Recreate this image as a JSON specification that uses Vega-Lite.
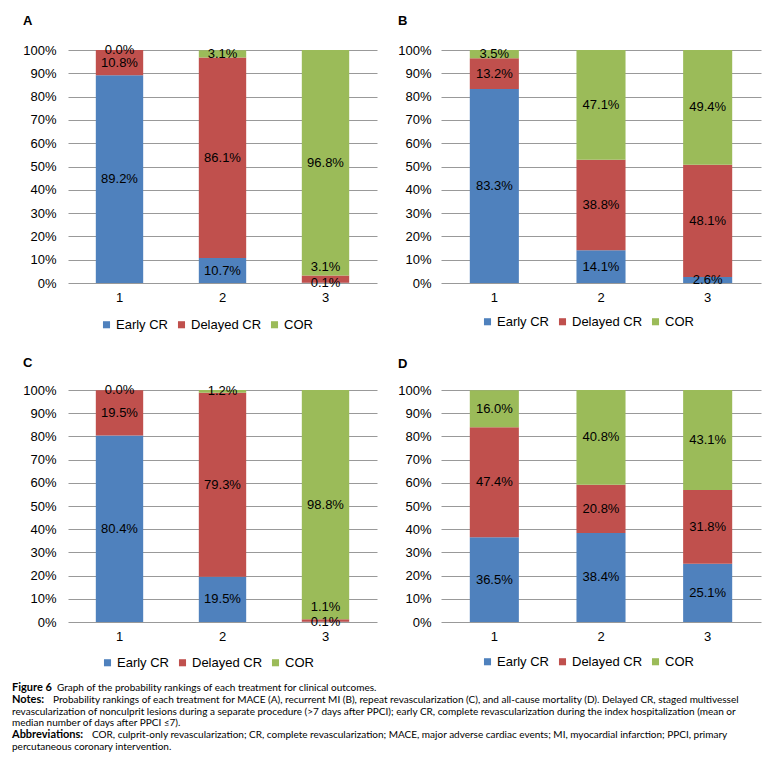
{
  "$schema": "https://vega.github.io/schema/vega-lite/v6.json",
  "padding": {"left": 12, "top": 15, "right": 5, "bottom": 0},
  "background": "white",
  "config": {
    "view": {"stroke": null},
    "font": "Liberation Sans",
    "axis": {"labelFont": "Liberation Sans", "labelFontSize": 13, "labelColor": "#000", "title": null, "ticks": false, "domain": false},
    "legend": {"labelFont": "Liberation Sans", "labelFontSize": 13, "labelColor": "#000"}
  },
  "datasets": {
    "bars": [
      {"panel": "A", "rank": "1", "series": "Early CR", "value": 0.892},
      {"panel": "A", "rank": "1", "series": "Delayed CR", "value": 0.108},
      {"panel": "A", "rank": "1", "series": "COR", "value": 0.0},
      {"panel": "A", "rank": "2", "series": "Early CR", "value": 0.107},
      {"panel": "A", "rank": "2", "series": "Delayed CR", "value": 0.861},
      {"panel": "A", "rank": "2", "series": "COR", "value": 0.031},
      {"panel": "A", "rank": "3", "series": "Early CR", "value": 0.001},
      {"panel": "A", "rank": "3", "series": "Delayed CR", "value": 0.031},
      {"panel": "A", "rank": "3", "series": "COR", "value": 0.968},
      {"panel": "B", "rank": "1", "series": "Early CR", "value": 0.833},
      {"panel": "B", "rank": "1", "series": "Delayed CR", "value": 0.132},
      {"panel": "B", "rank": "1", "series": "COR", "value": 0.035},
      {"panel": "B", "rank": "2", "series": "Early CR", "value": 0.141},
      {"panel": "B", "rank": "2", "series": "Delayed CR", "value": 0.388},
      {"panel": "B", "rank": "2", "series": "COR", "value": 0.471},
      {"panel": "B", "rank": "3", "series": "Early CR", "value": 0.026},
      {"panel": "B", "rank": "3", "series": "Delayed CR", "value": 0.481},
      {"panel": "B", "rank": "3", "series": "COR", "value": 0.494},
      {"panel": "C", "rank": "1", "series": "Early CR", "value": 0.804},
      {"panel": "C", "rank": "1", "series": "Delayed CR", "value": 0.195},
      {"panel": "C", "rank": "1", "series": "COR", "value": 0.0},
      {"panel": "C", "rank": "2", "series": "Early CR", "value": 0.195},
      {"panel": "C", "rank": "2", "series": "Delayed CR", "value": 0.793},
      {"panel": "C", "rank": "2", "series": "COR", "value": 0.012},
      {"panel": "C", "rank": "3", "series": "Early CR", "value": 0.001},
      {"panel": "C", "rank": "3", "series": "Delayed CR", "value": 0.011},
      {"panel": "C", "rank": "3", "series": "COR", "value": 0.988},
      {"panel": "D", "rank": "1", "series": "Early CR", "value": 0.365},
      {"panel": "D", "rank": "1", "series": "Delayed CR", "value": 0.474},
      {"panel": "D", "rank": "1", "series": "COR", "value": 0.160},
      {"panel": "D", "rank": "2", "series": "Early CR", "value": 0.384},
      {"panel": "D", "rank": "2", "series": "Delayed CR", "value": 0.208},
      {"panel": "D", "rank": "2", "series": "COR", "value": 0.408},
      {"panel": "D", "rank": "3", "series": "Early CR", "value": 0.251},
      {"panel": "D", "rank": "3", "series": "Delayed CR", "value": 0.318},
      {"panel": "D", "rank": "3", "series": "COR", "value": 0.431}
    ],
    "caption": [
      {"line": 1, "part": "lead", "text": "Figure 6"},
      {"line": 1, "part": "body", "text": "Graph of the probability rankings of each treatment for clinical outcomes."},
      {"line": 2, "part": "lead", "text": "Notes:"},
      {"line": 2, "part": "body", "text": "Probability rankings of each treatment for MACE (A), recurrent MI (B), repeat revascularization (C), and all-cause mortality (D). Delayed CR, staged multivessel"},
      {"line": 3, "part": "body", "text": "revascularization of nonculprit lesions during a separate procedure (>7 days after PPCI); early CR, complete revascularization during the index hospitalization (mean or"},
      {"line": 4, "part": "body", "text": "median number of days after PPCI ≤7)."},
      {"line": 5, "part": "lead", "text": "Abbreviations:"},
      {"line": 5, "part": "body", "text": "COR, culprit-only revascularization; CR, complete revascularization; MACE, major adverse cardiac events; MI, myocardial infarction; PPCI, primary"},
      {"line": 6, "part": "body", "text": "percutaneous coronary intervention."}
    ]
  },
  "resolve": {"legend": {"color": "independent"}, "scale": {"color": "independent"}},
  "align": "none",
  "spacing": 12,
  "vconcat": [
    {
      "spacing": 25,
      "resolve": {"legend": {"color": "independent"}, "scale": {"color": "independent"}},
      "vconcat": [
        {
          "hconcat": [
            {
              "data": {"name": "bars"},
              "transform": [{"filter": "datum.panel == 'A'"}],
              "title": {"text": "A", "anchor": "start", "frame": "group", "dx": -45, "offset": 4, "fontSize": 13, "fontWeight": "bold", "color": "#000"},
              "width": 309, "height": 233,
              "encoding": {
                "x": {"field": "rank", "type": "ordinal", "scale": {"paddingInner": 0.54, "paddingOuter": 0.27}, "axis": {"labelAngle": 0, "labelPadding": 8}},
                "order": {"field": "series", "sort": "descending"}
              },
              "layer": [
                {"mark": {"type": "bar"},
                 "encoding": {
                   "y": {"field": "value", "type": "quantitative", "stack": "zero", "scale": {"domain": [0, 1]}, "axis": {"format": ".0%", "tickCount": 10, "grid": true, "gridColor": "#999", "labelPadding": 12, "minExtent": 56, "maxExtent": 56}},
                   "color": {"field": "series", "type": "nominal", "scale": {"domain": ["Early CR", "Delayed CR", "COR"], "range": ["#4F81BD", "#C0504D", "#9BBB59"]}, "legend": {"title": null, "orient": "none", "direction": "horizontal", "legendX": 32, "legendY": 268, "symbolType": "square", "symbolSize": 50, "columnPadding": 6, "labelOffset": 3}}
                 }},
                {"mark": {"type": "text", "fontSize": 13, "color": "#000", "baseline": "middle"},
                 "encoding": {
                   "y": {"field": "value", "type": "quantitative", "stack": "zero", "bandPosition": 0.5},
                   "detail": {"field": "series"},
                   "text": {"field": "value", "format": ".1%"},
                   "opacity": {"condition": {"test": "datum.rank == '3' && datum.series == 'Delayed CR'", "value": 0}, "value": 1}
                 }},
                {"mark": {"type": "text", "fontSize": 13, "color": "#000", "baseline": "middle", "dy": -12},
                 "encoding": {
                   "y": {"field": "value", "type": "quantitative", "stack": "zero", "bandPosition": 0.5},
                   "detail": {"field": "series"},
                   "text": {"field": "value", "format": ".1%"},
                   "opacity": {"condition": {"test": "datum.rank == '3' && datum.series == 'Delayed CR'", "value": 1}, "value": 0}
                 }}
              ]
            },
            {
              "data": {"name": "bars"},
              "transform": [{"filter": "datum.panel == 'B'"}],
              "title": {"text": "B", "anchor": "start", "frame": "group", "dx": -43, "offset": 16, "fontSize": 13, "fontWeight": "bold", "color": "#000"},
              "width": 320, "height": 233,
              "encoding": {
                "x": {"field": "rank", "type": "ordinal", "scale": {"paddingInner": 0.54, "paddingOuter": 0.27}, "axis": {"labelAngle": 0, "labelPadding": 8}},
                "order": {"field": "series", "sort": "descending"}
              },
              "layer": [
                {"mark": {"type": "bar"},
                 "encoding": {
                   "y": {"field": "value", "type": "quantitative", "stack": "zero", "scale": {"domain": [0, 1], "clamp": true}, "axis": {"format": ".0%", "tickCount": 10, "grid": true, "gridColor": "#999", "labelPadding": 10, "minExtent": 43, "maxExtent": 43}},
                   "color": {"field": "series", "type": "nominal", "scale": {"domain": ["Early CR", "Delayed CR", "COR"], "range": ["#4F81BD", "#C0504D", "#9BBB59"]}, "legend": {"title": null, "orient": "none", "direction": "horizontal", "legendX": 40, "legendY": 265, "symbolType": "square", "symbolSize": 50, "columnPadding": 6, "labelOffset": 3}}
                 }},
                {"mark": {"type": "text", "fontSize": 13, "color": "#000", "baseline": "middle"},
                 "encoding": {
                   "y": {"field": "value", "type": "quantitative", "stack": "zero", "bandPosition": 0.5},
                   "detail": {"field": "series"},
                   "text": {"field": "value", "format": ".1%"}
                 }}
              ]
            }
          ],
          "spacing": 20,
          "resolve": {"legend": {"color": "independent"}, "scale": {"color": "independent"}}
        },
        {
          "hconcat": [
            {
              "data": {"name": "bars"},
              "transform": [{"filter": "datum.panel == 'C'"}],
              "title": {"text": "C", "anchor": "start", "frame": "group", "dx": -45, "offset": 1, "fontSize": 13, "fontWeight": "bold", "color": "#000"},
              "width": 309, "height": 232,
              "encoding": {
                "x": {"field": "rank", "type": "ordinal", "scale": {"paddingInner": 0.54, "paddingOuter": 0.27}, "axis": {"labelAngle": 0, "labelPadding": 8}},
                "order": {"field": "series", "sort": "descending"}
              },
              "layer": [
                {"mark": {"type": "bar"},
                 "encoding": {
                   "y": {"field": "value", "type": "quantitative", "stack": "zero", "scale": {"domain": [0, 1]}, "axis": {"format": ".0%", "tickCount": 10, "grid": true, "gridColor": "#999", "labelPadding": 12, "minExtent": 56, "maxExtent": 56}},
                   "color": {"field": "series", "type": "nominal", "scale": {"domain": ["Early CR", "Delayed CR", "COR"], "range": ["#4F81BD", "#C0504D", "#9BBB59"]}, "legend": {"title": null, "orient": "none", "direction": "horizontal", "legendX": 33, "legendY": 266, "symbolType": "square", "symbolSize": 50, "columnPadding": 6, "labelOffset": 3}}
                 }},
                {"mark": {"type": "text", "fontSize": 13, "color": "#000", "baseline": "middle"},
                 "encoding": {
                   "y": {"field": "value", "type": "quantitative", "stack": "zero", "bandPosition": 0.5},
                   "detail": {"field": "series"},
                   "text": {"field": "value", "format": ".1%"},
                   "opacity": {"condition": {"test": "datum.rank == '3' && datum.series == 'Delayed CR'", "value": 0}, "value": 1}
                 }},
                {"mark": {"type": "text", "fontSize": 13, "color": "#000", "baseline": "middle", "dy": -13},
                 "encoding": {
                   "y": {"field": "value", "type": "quantitative", "stack": "zero", "bandPosition": 0.5},
                   "detail": {"field": "series"},
                   "text": {"field": "value", "format": ".1%"},
                   "opacity": {"condition": {"test": "datum.rank == '3' && datum.series == 'Delayed CR'", "value": 1}, "value": 0}
                 }}
              ]
            },
            {
              "data": {"name": "bars"},
              "transform": [{"filter": "datum.panel == 'D'"}],
              "title": {"text": "D", "anchor": "start", "frame": "group", "dx": -43, "offset": 13, "fontSize": 13, "fontWeight": "bold", "color": "#000"},
              "width": 320, "height": 232,
              "encoding": {
                "x": {"field": "rank", "type": "ordinal", "scale": {"paddingInner": 0.54, "paddingOuter": 0.27}, "axis": {"labelAngle": 0, "labelPadding": 8}},
                "order": {"field": "series", "sort": "descending"}
              },
              "layer": [
                {"mark": {"type": "bar"},
                 "encoding": {
                   "y": {"field": "value", "type": "quantitative", "stack": "zero", "scale": {"domain": [0, 1]}, "axis": {"format": ".0%", "tickCount": 10, "grid": true, "gridColor": "#999", "labelPadding": 10, "minExtent": 43, "maxExtent": 43}},
                   "color": {"field": "series", "type": "nominal", "scale": {"domain": ["Early CR", "Delayed CR", "COR"], "range": ["#4F81BD", "#C0504D", "#9BBB59"]}, "legend": {"title": null, "orient": "none", "direction": "horizontal", "legendX": 40, "legendY": 265, "symbolType": "square", "symbolSize": 50, "columnPadding": 6, "labelOffset": 3}}
                 }},
                {"mark": {"type": "text", "fontSize": 13, "color": "#000", "baseline": "middle"},
                 "encoding": {
                   "y": {"field": "value", "type": "quantitative", "stack": "zero", "bandPosition": 0.5},
                   "detail": {"field": "series"},
                   "text": {"field": "value", "format": ".1%"}
                 }}
              ]
            }
          ],
          "spacing": 20,
          "resolve": {"legend": {"color": "independent"}, "scale": {"color": "independent"}}
        }
      ]
    },
    {
      "data": {"name": "caption"},
      "width": 756, "height": 59,
      "encoding": {
        "y": {"field": "line", "type": "ordinal", "scale": {"type": "point", "padding": 0}, "axis": null},
        "x": {"value": -56},
        "text": {"field": "text"}
      },
      "layer": [
        {"transform": [{"filter": "datum.part == 'lead'"}], "mark": {"type": "text", "align": "left", "baseline": "middle", "font": "Lato", "fontSize": 11, "fontWeight": "bold", "color": "#000"}},
        {"transform": [{"filter": "datum.part == 'body' && datum.line == 1"}], "mark": {"type": "text", "align": "left", "baseline": "middle", "font": "Lato", "fontSize": 10, "color": "#000", "dx": 45}},
        {"transform": [{"filter": "datum.part == 'body' && datum.line == 2"}], "mark": {"type": "text", "align": "left", "baseline": "middle", "font": "Lato", "fontSize": 10, "color": "#000", "dx": 41}},
        {"transform": [{"filter": "datum.part == 'body' && datum.line == 5"}], "mark": {"type": "text", "align": "left", "baseline": "middle", "font": "Lato", "fontSize": 10, "color": "#000", "dx": 80}},
        {"transform": [{"filter": "datum.part == 'body' && (datum.line == 3 || datum.line == 4 || datum.line == 6)"}], "mark": {"type": "text", "align": "left", "baseline": "middle", "font": "Lato", "fontSize": 10, "color": "#000"}}
      ]
    }
  ]
}
